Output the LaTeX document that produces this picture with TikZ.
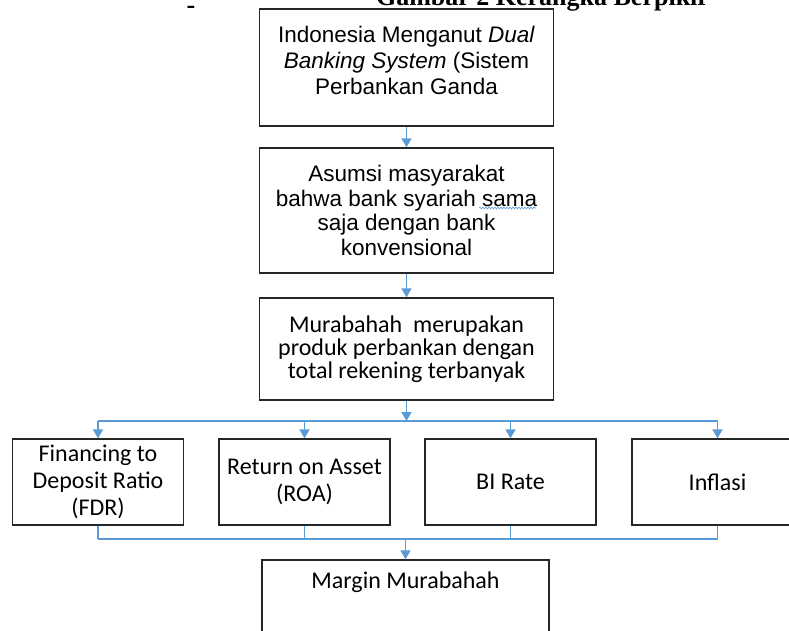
\documentclass[tikz,border=0pt]{standalone}
\usepackage{fontspec}
\setmainfont{Liberation Sans}
\newfontfamily\calibri{Carlito}
\newfontfamily\timesfont{Liberation Serif}
\usetikzlibrary{arrows.meta,decorations.pathmorphing}

\definecolor{linkblue}{HTML}{5B9BD5}
\definecolor{boxline}{HTML}{262626}

\tikzset{
	box/.style={draw=boxline, line width=1.3pt, align=flush center, inner xsep=5pt},
	topbox/.style={box, text width=284pt, minimum width=294pt},
	rowbox/.style={box, text width=160pt, minimum width=171pt, minimum height=86pt,
		font=\calibri\fontsize{24}{27}\selectfont},
	link/.style={linkblue, line width=1.7pt},
	arr/.style={link, -{Triangle[width=10pt,length=9pt]}},
	wavy/.style={linkblue, line width=0.6pt, decorate, decoration={snake, amplitude=0.9pt, segment length=3pt}},
	heading/.style={font=\timesfont\bfseries\fontsize{26}{30}\selectfont, anchor=base}
}

\begin{document}
\begin{tikzpicture}[x=1pt,y=-1pt]

		\useasboundingbox (0,0) rectangle (789,630);

		\node[heading] (dash) at (191,13.5) {-};
		\node[heading] (title) at (542.5,5) {Gambar 2 Kerangka Berpikir};

		\node[topbox, inner ysep=0pt, text height=33pt, text depth=84pt,
			font=\fontsize{22.5}{26}\selectfont] (box1) at (406.5,67.5)
			{Indonesia Menganut \textit{Dual}\\ \textit{Banking System} (Sistem\\ Perbankan Ganda};
		\node[topbox, minimum height=125pt, font=\fontsize{22.5}{24.5}\selectfont] (box2) at (406.5,210.5)
			{Asumsi masyarakat\\ bahwa bank syariah sama\\ saja dengan bank\\ konvensional};
		\node[topbox, minimum height=102pt, font=\calibri\fontsize{24}{23}\selectfont] (box3) at (406.5,349)
			{Murabahah~ merupakan\\ produk perbankan dengan\\ total rekening terbanyak};

		\node[rowbox] (fdr) at (98,482) {Financing to\\ Deposit Ratio\\ (FDR)};
		\node[rowbox] (roa) at (304.5,482) {Return on Asset\\ (ROA)};
		\node[rowbox] (bi) at (510.5,482) {BI Rate};
		\node[rowbox] (inf) at (717.5,482) {Inflasi};

		\node[box, text width=277pt, minimum width=287pt, inner ysep=0pt, text height=28pt, text depth=92pt,
			font=\calibri\fontsize{24}{27}\selectfont] (margin) at (405.5,620) {Margin Murabahah};

		% spell-check mark under "sama"
		\draw[wavy] ([shift={(72.5,-2.5)}]box2.center) -- ([shift={(129.5,-2.5)}]box2.center);

		\coordinate (split) at (0,421);
		\coordinate (join) at (0,539);

		\foreach \source/\dest in {box1/box2, box2/box3}
		\draw[arr] (\source) -- (\dest);
		\draw[arr] (box3.south) -- (box3.south |- split);
		\draw[link] (fdr.north |- split) -- (inf.north |- split);
		\foreach \dest in {fdr, roa, bi, inf}
		\draw[arr] (\dest.north |- split) -- (\dest.north);

		\foreach \source in {fdr, roa, bi, inf}
		\draw[link] (\source.south) -- (\source.south |- join);
		\draw[link] (fdr.south |- join) -- (inf.south |- join);
		\draw[arr] (margin.north |- join) -- (margin.north);

	\end{tikzpicture}
\end{document}
